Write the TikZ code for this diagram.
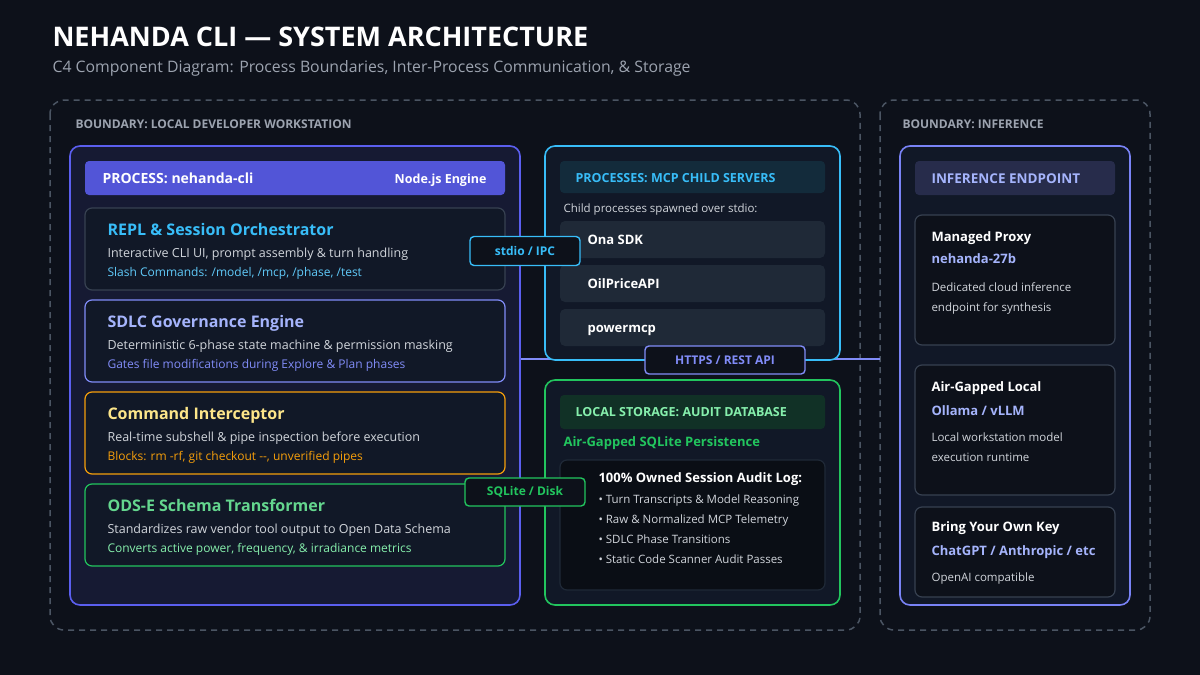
\documentclass[tikz,border=0pt]{standalone}
\usepackage{fontspec}
\setmainfont{Open Sans}
\usetikzlibrary{positioning}
\definecolor{bg}{HTML}{0D111A}
\definecolor{dash}{HTML}{4B5563}
\definecolor{procblue}{HTML}{5B5FEF}
\definecolor{procfill}{HTML}{161A33}
\definecolor{cardfill}{HTML}{111827}
\definecolor{cardline}{HTML}{374151}
\definecolor{cyanc}{HTML}{38BDF8}
\definecolor{indigoc}{HTML}{818CF8}
\definecolor{indigol}{HTML}{A5B4FC}
\definecolor{orangec}{HTML}{F59E0B}
\definecolor{yellowc}{HTML}{FDE68A}
\definecolor{greenc}{HTML}{22C55E}
\definecolor{greenl}{HTML}{86EFAC}
\definecolor{txt}{HTML}{D1D5DB}
\definecolor{mut}{HTML}{9CA3AF}
\definecolor{rowfill}{HTML}{1F2937}
\tikzset{
  boundary/.style={draw=dash, dashed, line width=1.5pt, dash pattern=on 6pt off 5pt, rounded corners=14pt},
  box/.style={line width=1.6pt, rounded corners=10pt},
  card/.style={line width=1.2pt, rounded corners=7pt, fill=cardfill},
  blabel/.style={anchor=base west, text=mut, font=\bfseries\fontsize{12}{12}\selectfont},
  ctitle/.style={anchor=base west, font=\bfseries\fontsize{16}{16}\selectfont},
  cdesc/.style={anchor=base west, text=txt, font=\fontsize{12.5}{13}\selectfont},
  csub/.style={anchor=base west, font=\fontsize{12}{12}\selectfont},
  hdr/.style={anchor=base west, font=\bfseries\fontsize{12.5}{13}\selectfont},
  item/.style={anchor=base west, text=white, font=\bfseries\fontsize{13}{13}\selectfont},
  small/.style={anchor=base west, text=txt, font=\fontsize{11.5}{12}\selectfont},
  link/.style={draw=#1, fill=bg, line width=1.4pt, rounded corners=4pt, text=#1, font=\bfseries\fontsize{12}{12}\selectfont, inner sep=0pt}
}
\begin{document}
\begin{tikzpicture}[x=1pt, y=-1pt]
  \fill[bg] (0,0) rectangle (1200,675);
  \useasboundingbox (0,0) rectangle (1200,675);
  \node[anchor=base west, text=white, font=\bfseries\fontsize{27}{27}\selectfont] (title) at (49,46) {NEHANDA CLI — SYSTEM ARCHITECTURE};
  \node[anchor=base west, text=mut, font=\fontsize{15.8}{16}\selectfont] (subtitle) at (49,72) {C4 Component Diagram: Process Boundaries, Inter-Process Communication, \& Storage};
  % boundaries
  \draw[boundary] (50,100) rectangle (860,630);
  \draw[boundary] (880,100) rectangle (1150,630);
  \node[blabel] at (72,128) {BOUNDARY: LOCAL DEVELOPER WORKSTATION};
  \node[blabel] at (899,128) {BOUNDARY: INFERENCE};
  % https link line
  \coordinate (cli east) at (520,359);
  \coordinate (inf west) at (880,359);
  \draw[indigoc, line width=2.5pt] (cli east) -- (inf west);
  % process nehanda-cli
  \draw[box, draw=procblue, fill=procfill] (70,146) rectangle (520,605);
  \fill[procblue!90!black, rounded corners=4pt] (85,161) rectangle (505,195);
  \node[hdr, text=white, font=\bfseries\fontsize{14}{14}\selectfont] at (99,183) {PROCESS: nehanda-cli};
  \node[anchor=base east, text=white, font=\bfseries\fontsize{12.5}{13}\selectfont] at (490,183) {Node.js Engine};
  \draw[card, draw=cardline] (85,208) rectangle (505,290);
  \node[ctitle, text=cyanc] at (104,235) {REPL \& Session Orchestrator};
  \node[cdesc] at (104,257) {Interactive CLI UI, prompt assembly \& turn handling};
  \node[csub, text=cyanc!80!white] at (104,276) {Slash Commands: /model, /mcp, /phase, /test};
  \draw[card, draw=indigoc] (85,300) rectangle (505,382);
  \node[ctitle, text=indigol] at (104,327) {SDLC Governance Engine};
  \node[cdesc] at (104,349) {Deterministic 6-phase state machine \& permission masking};
  \node[csub, text=indigoc] at (104,368) {Gates file modifications during Explore \& Plan phases};
  \draw[card, draw=orangec] (85,392) rectangle (505,474);
  \node[ctitle, text=yellowc] at (104,419) {Command Interceptor};
  \node[cdesc] at (104,441) {Real-time subshell \& pipe inspection before execution};
  \node[csub, text=orangec] at (104,460) {Blocks: rm -rf, git checkout -{}-, unverified pipes};
  \draw[card, draw=greenc] (85,484) rectangle (505,566);
  \node[ctitle, text=greenc!70!white] at (104,511) {ODS-E Schema Transformer};
  \node[cdesc] at (104,533) {Standardizes raw vendor tool output to Open Data Schema};
  \node[csub, text=greenl] at (104,552) {Converts active power, frequency, \& irradiance metrics};
  % mcp child servers
  \draw[box, draw=cyanc, fill=cardfill] (545,146) rectangle (840,360);
  \fill[cyanc!15!bg, rounded corners=4pt] (560,161) rectangle (825,193);
  \node[hdr, text=cyanc] at (572,182) {PROCESSES: MCP CHILD SERVERS};
  \node[small] at (560,212) {Child processes spawned over stdio:};
  \foreach \y/\name in {221/Ona SDK, 265/OilPriceAPI, 309/powermcp} {
    \fill[rowfill, rounded corners=5pt] (560,\y) rectangle (825,\y+37);
    \node[item] at (584,\y+23) {\name};
  }
  % local storage
  \draw[box, draw=greenc, fill=cardfill] (545,380) rectangle (840,605);
  \fill[greenc!18!bg, rounded corners=4pt] (560,395) rectangle (825,429);
  \node[hdr, text=greenl] at (572,416) {LOCAL STORAGE: AUDIT DATABASE};
  \node[hdr, text=greenc, font=\bfseries\fontsize{13}{13}\selectfont] at (560,446) {Air-Gapped SQLite Persistence};
  \draw[card, draw=rowfill, fill=bg!80!black] (560,460) rectangle (825,590);
  \node[item] at (595,482) {100\% Owned Session Audit Log:};
  \foreach \y/\t in {503/Turn Transcripts \& Model Reasoning, 523/Raw \& Normalized MCP Telemetry, 543/SDLC Phase Transitions, 563/Static Code Scanner Audit Passes}
    \node[small] at (595,\y) {• \t};
  % inference endpoint
  \draw[box, draw=indigoc!80!procblue, fill=cardfill] (900,146) rectangle (1130,605);
  \fill[indigoc!22!bg, rounded corners=4pt] (915,161) rectangle (1115,195);
  \node[hdr, text=indigol, font=\bfseries\fontsize{13.5}{14}\selectfont] at (928,183) {INFERENCE ENDPOINT};
  \draw[card, draw=cardline, fill=bg] (915,215) rectangle (1115,345);
  \node[item] at (928,241) {Managed Proxy};
  \node[item, text=indigol] at (928,263) {nehanda-27b};
  \node[small] at (928,291) {Dedicated cloud inference};
  \node[small] at (928,311) {endpoint for synthesis};
  \draw[card, draw=cardline, fill=bg] (915,365) rectangle (1115,495);
  \node[item] at (928,391) {Air-Gapped Local};
  \node[item, text=indigol] at (928,415) {Ollama / vLLM};
  \node[small] at (928,441) {Local workstation model};
  \node[small] at (928,461) {execution runtime};
  \draw[card, draw=cardline, fill=bg] (915,507) rectangle (1115,597);
  \node[item] at (928,531) {Bring Your Own Key};
  \node[item, text=indigol] at (928,555) {ChatGPT / Anthropic / etc};
  \node[small] at (928,581) {OpenAI compatible};
  % link labels
  \node[link=cyanc, minimum width=110pt, minimum height=29pt] (ipc) at (525,251) {stdio / IPC};
  \node[link=indigoc, minimum width=160pt, minimum height=28pt] (rest) at (725,360) {HTTPS / REST API};
  \node[link=greenc, minimum width=120pt, minimum height=28pt] (disk) at (525,492) {SQLite / Disk};
\end{tikzpicture}
\end{document}
